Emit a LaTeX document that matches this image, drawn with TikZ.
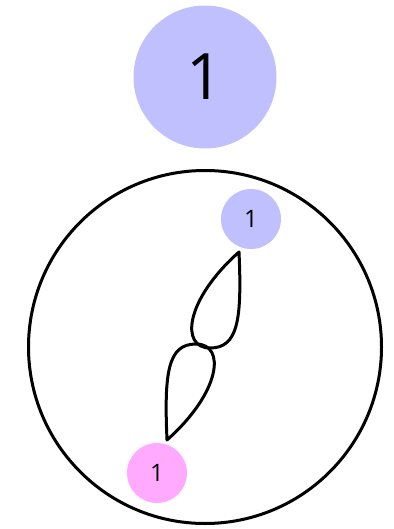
\documentclass[tikz,border=0pt]{standalone}
\usepackage{fontspec}
\setmainfont{Open Sans}
\definecolor{nodeblue}{RGB}{192,192,255}
\definecolor{nodepink}{RGB}{255,170,255}
\begin{document}
\begin{tikzpicture}[x=1pt,y=-1pt,
  bignum/.style={circle,fill=nodeblue,minimum size=143pt,inner sep=0pt,font=\fontsize{64}{64}\selectfont},
  smallnum/.style={circle,minimum size=60pt,inner sep=0pt,font=\fontsize{24}{24}\selectfont},
  strand/.style={line width=3pt,line join=round}]
\useasboundingbox (0,0) rectangle (393,529);
\node[bignum] (top) at (205,77) {1};
\node[circle,draw,line width=3pt,minimum size=353pt,inner sep=0pt] (disk) at (205,347) {};
\node[smallnum,fill=nodeblue] (a) at (251,219) {1};
\node[smallnum,fill=nodepink] (b) at (157,473) {1};
\coordinate (t1) at (239,252);
\coordinate (b1) at (210,348);
\coordinate (t2) at (167,440);
\coordinate (b2) at (196,344);
\draw[strand] (t1) .. controls (242,320) and (238,348) .. (b1)
  .. controls (180,348) and (185,300) .. cycle;
\draw[strand] (t2) .. controls (164,372) and (168,344) .. (b2)
  .. controls (226,344) and (221,392) .. cycle;
\end{tikzpicture}
\end{document}
